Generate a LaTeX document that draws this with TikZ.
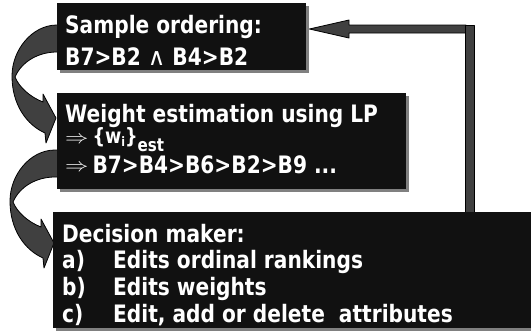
\documentclass[tikz,border=0pt]{standalone}
\usepackage{graphicx}
\usepackage{fontspec}
\usetikzlibrary{shadows,calc,backgrounds}
\newfontfamily\boxfont{DejaVu Sans}[FakeStretch=0.84]
\newfontfamily\symfont{DejaVu Sans}
\definecolor{boxblack}{HTML}{111111}
\definecolor{shadowgray}{HTML}{808080}
\definecolor{arrowgray}{HTML}{404040}

\tikzset{
  box/.style={fill=boxblack, inner sep=0, anchor=north west,
    drop shadow={shadow xshift=3pt, shadow yshift=-3pt, fill=shadowgray, opacity=1}},
  txt/.style={text=white, inner sep=0, anchor=base west,
    font=\boxfont\bfseries\fontsize{24}{28}\selectfont},
  arrowbody/.style={fill=arrowgray, draw=black, line width=0.8pt, line join=round},
  % curved block arrow leaving a box on its left side and pointing at the next box
  bendarrow/.pic={
    \draw[arrowbody] (4,0) -- (0,0)
      .. controls (-25,0) and (-45,25) .. (-45,51)
      .. controls (-45,80) and (-30,100) .. (-12,108)
      -- (-11,118) -- (-1,93) -- (-14,69) -- (-14,77)
      .. controls (-27,72) and (-38,62) .. (-42,52)
      .. controls (-35,36) and (-18,27) .. (0,27) -- (4,27) -- cycle;
  }
}

\newcommand{\sym}[2][22]{{\symfont\mdseries\fontsize{#1}{#1}\selectfont #2}}
\newcommand{\impl}[1][2pt]{\raisebox{#1}{\scalebox{1.35}[1.1]{\fontsize{17}{17}\selectfont$\Rightarrow$}}}

\begin{document}
\begin{tikzpicture}[x=1pt,y=-1pt]
\useasboundingbox (0,0) rectangle (531,335);

% boxes
\node[box, minimum width=249pt, minimum height=67pt] (b1) at (57,3) {};
\node[box, minimum width=349pt, minimum height=96pt] (b2) at (57,93) {};
\node[box, minimum width=490pt, minimum height=116pt] (b3) at (53,212) {};

% texts
\node[txt] (s1) at (65,33) {Sample ordering:};
\node[txt] (s2) at (65,65) {B7>B2 \sym[24]{∧} B4>B2};

\node[txt] (w1) at (65,122) {Weight estimation using LP};
\node[txt] (w2) at (65,143) {\impl[0pt]\hspace{4pt}{\fontsize{21}{21}\selectfont\{w}\raisebox{-3pt}{\fontsize{13}{13}\selectfont i}{\fontsize{21}{21}\selectfont\}}\raisebox{-8pt}{\fontsize{18}{18}\selectfont est}};
\node[txt] (w3) at (65,173) {\impl\hspace{4pt}B7>B4>B6>B2>B9 ...};

\node[txt] (d1) at (62,242) {Decision maker:};
\node[txt] (d2) at (62,268) {\makebox[51pt][l]{a)}Edits ordinal rankings};
\node[txt] (d3) at (62,295) {\makebox[51pt][l]{b)}Edits weights};
\node[txt] (d4) at (62,322) {\makebox[51pt][l]{c)}Edit, add or delete~ attributes};

% connectors, behind the boxes
\begin{pgfonlayer}{background}
  \pic at ($(b1.north west)+(0,22)$) {bendarrow};
  \pic at ($(b2.north west)+(-2,57)$) {bendarrow};

  \coordinate (fbtip) at ($(b1.north east)+(3,26)$);
  \coordinate (fbfoot) at ($(b3.north west)+(412,2)$);
  \draw[arrowbody] (fbtip) -- (349,20) -- (349,25) -- (466,25)
    -- (466,33) -- (349,33) -- (349,38) -- cycle;
  \draw[arrowbody] (fbfoot) -- (465,25) -- (474,25) -- (fbfoot -| 474,0) -- cycle;
\end{pgfonlayer}
\end{tikzpicture}
\end{document}
